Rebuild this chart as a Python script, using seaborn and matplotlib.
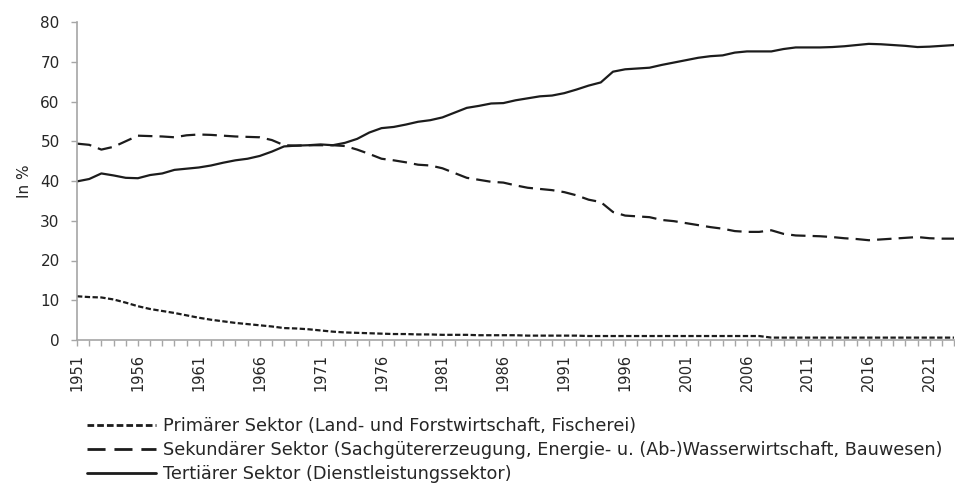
import matplotlib
matplotlib.use("Agg")
import matplotlib.pyplot as plt
import seaborn as sns
import numpy as np
import pandas as pd
from matplotlib.lines import Line2D
from matplotlib.ticker import MultipleLocator

years = list(range(1951, 2024))

primaer = [11.0, 10.8, 10.7, 10.2, 9.4, 8.5, 7.8, 7.3, 6.8, 6.2,
           5.6, 5.1, 4.7, 4.3, 4.0, 3.7, 3.4, 3.0, 2.9, 2.7,
           2.4, 2.1, 1.9, 1.8, 1.7, 1.6, 1.5, 1.5, 1.4, 1.4,
           1.3, 1.3, 1.3, 1.2, 1.2, 1.2, 1.2, 1.1, 1.1, 1.1,
           1.1, 1.1, 1.0, 1.0, 1.0, 1.0, 1.0, 1.0, 1.0, 1.0,
           1.0, 1.0, 1.0, 1.0, 1.0, 1.0, 1.0, 0.6, 0.6, 0.6,
           0.6, 0.6, 0.6, 0.6, 0.6, 0.6, 0.6, 0.6, 0.6, 0.6,
           0.6, 0.6, 0.6]

sekundaer = [49.4, 49.1, 47.9, 48.6, 50.0, 51.4, 51.3, 51.2, 51.0, 51.5,
             51.7, 51.6, 51.4, 51.2, 51.1, 51.0, 50.3, 49.0, 48.9, 49.0,
             49.0, 49.0, 48.8, 47.9, 46.8, 45.6, 45.2, 44.7, 44.1, 43.9,
             43.2, 42.0, 40.8, 40.3, 39.8, 39.6, 38.9, 38.3, 38.0, 37.7,
             37.2, 36.4, 35.3, 34.7, 32.2, 31.3, 31.1, 30.9, 30.2, 29.9,
             29.4, 28.9, 28.4, 28.0, 27.4, 27.2, 27.2, 27.6, 26.7, 26.3,
             26.2, 26.1, 25.9, 25.6, 25.4, 25.1, 25.3, 25.5, 25.7, 25.9,
             25.6, 25.5, 25.5]

tertiaer = [39.9, 40.5, 41.9, 41.4, 40.8, 40.7, 41.5, 41.9, 42.8, 43.1,
            43.4, 43.9, 44.6, 45.2, 45.6, 46.3, 47.4, 48.7, 48.9, 49.0,
            49.2, 49.0, 49.6, 50.6, 52.2, 53.3, 53.6, 54.2, 54.9, 55.3,
            56.0, 57.2, 58.4, 58.9, 59.5, 59.6, 60.3, 60.8, 61.3, 61.5,
            62.1, 63.0, 64.0, 64.8, 67.5, 68.1, 68.3, 68.5, 69.2, 69.8,
            70.4, 71.0, 71.4, 71.6, 72.3, 72.6, 72.6, 72.6, 73.2, 73.6,
            73.6, 73.6, 73.7, 73.9, 74.2, 74.5, 74.4, 74.2, 74.0, 73.7,
            73.8, 74.0, 74.2]

labels = ["Primärer Sektor (Land- und Forstwirtschaft, Fischerei)",
          "Sekundärer Sektor (Sachgütererzeugung, Energie- u. (Ab-)Wasserwirtschaft, Bauwesen)",
          "Tertiärer Sektor (Dienstleistungssektor)"]

sns.set_theme(style="white")
plt.rcParams["font.family"] = ["DejaVu Sans"]

W, H = 955, 484
fig = plt.figure(figsize=(W / 100, H / 100), dpi=100)
ax = fig.add_axes([77 / W, 1 - 340 / H, 1 - 77 / W - 0.001, (340 - 22) / H])

line_color = "#1c1c1c"
text_color = "#262626"
lw = 1.6
styles = [(0, (2.4, 1.1)), (0, (6.5, 3.2)), "-"]
series = [primaer, sekundaer, tertiaer]
handles = []
for vals, lab, ls in zip(series, labels, styles):
    sns.lineplot(x=years, y=vals, ax=ax, color=line_color, linewidth=lw,
                 linestyle=ls, legend=False)
    handles.append(Line2D([0], [0], color=line_color, lw=lw + 0.4, linestyle=ls))

ax.set_xlim(1951, 2023)
ax.set_ylim(0, 80)
ax.yaxis.set_major_locator(MultipleLocator(10))
xt = list(range(1951, 2024, 5))
ax.set_xticks(xt)
ax.set_xticklabels([str(y) for y in xt], rotation=90, fontsize=10.5)
ax.xaxis.set_minor_locator(MultipleLocator(1))
ax.tick_params(axis="x", which="both", direction="out", length=4.5, width=1,
               color="#a6a6a6", bottom=True, labelcolor=text_color, pad=5.5)
ax.tick_params(axis="y", which="major", direction="out", length=4.5, width=1,
               color="#a6a6a6", left=True, labelsize=11, labelcolor=text_color, pad=8)
for s in ["top", "right"]:
    ax.spines[s].set_visible(False)
for s in ["left", "bottom"]:
    ax.spines[s].set_color("#a6a6a6")
    ax.spines[s].set_linewidth(1.2)
ax.set_xlabel("")
ax.set_ylabel("In %", fontsize=11, color=text_color, labelpad=6)
ax.grid(False)

# legend: fit font size so the longest entry spans the same width as the reference
target_text_w = 943 - 163
fs = 12.0
for _ in range(3):
    leg = fig.legend(handles, labels, loc="upper left", bbox_to_anchor=(0.1, 0.2),
                     frameon=False, fontsize=fs, handlelength=69 / (fs * 100 / 72),
                     handletextpad=7 / (fs * 100 / 72), labelspacing=0.3,
                     borderaxespad=0, borderpad=0, labelcolor=text_color)
    fig.canvas.draw()
    r = fig.canvas.get_renderer()
    wtxt = leg.get_texts()[1].get_window_extent(r).width
    new_fs = fs * target_text_w / wtxt
    leg.remove()
    if abs(new_fs - fs) < 0.05:
        break
    fs = new_fs

fs_px = fs * 100 / 72
leg = fig.legend(handles, labels, loc="upper left", bbox_to_anchor=(0.1, 0.2),
                 frameon=False, fontsize=fs, handlelength=69 / fs_px,
                 handletextpad=7 / fs_px, labelspacing=0.3,
                 borderaxespad=0, borderpad=0, labelcolor=text_color)
fig.canvas.draw()
r = fig.canvas.get_renderer()
ext = [t.get_window_extent(r) for t in leg.get_texts()]
gap = ((ext[0].y0 + ext[0].y1) / 2 - (ext[2].y0 + ext[2].y1) / 2) / 2
spacing_wanted = 24
ls_new = 0.3 + (spacing_wanted - gap) / fs_px
leg.remove()
leg = fig.legend(handles, labels, loc="upper left", bbox_to_anchor=(0.1, 0.2),
                 frameon=False, fontsize=fs, handlelength=69 / fs_px,
                 handletextpad=7 / fs_px, labelspacing=ls_new,
                 borderaxespad=0, borderpad=0, labelcolor=text_color)
fig.canvas.draw()
t0 = leg.get_texts()[0].get_window_extent(r)
cy = (t0.y0 + t0.y1) / 2
dx = 163 - t0.x0
dy = (H - 426) - cy
leg.set_bbox_to_anchor((0.1 + dx / W, 0.2 + dy / H), transform=fig.transFigure)

fig.savefig("out.png", dpi=100)
